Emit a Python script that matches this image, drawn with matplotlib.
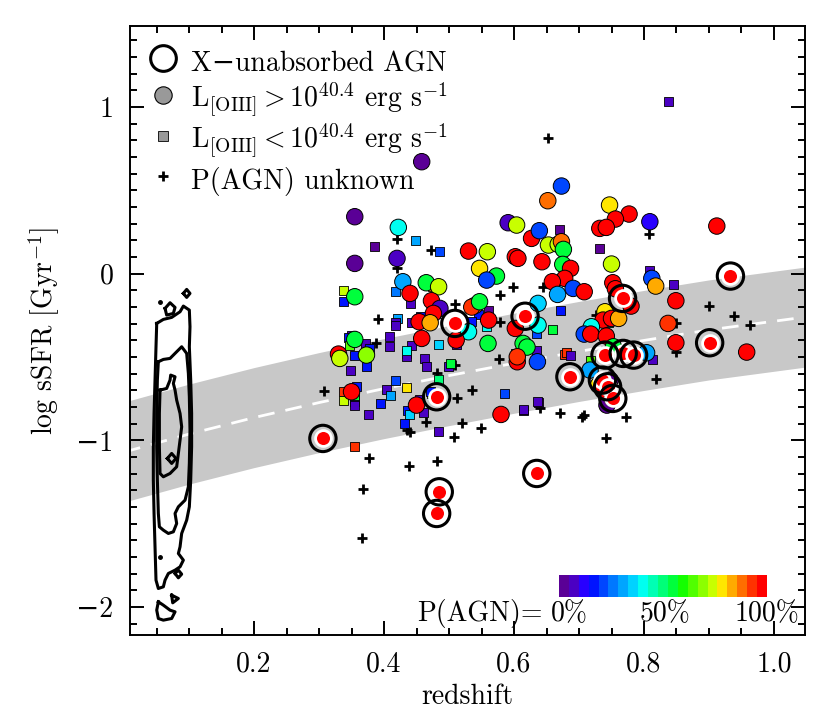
import numpy as np
import matplotlib
matplotlib.use("Agg")
import matplotlib.pyplot as plt
from matplotlib.colors import ListedColormap
from matplotlib.lines import Line2D
from matplotlib.ticker import MultipleLocator

plt.rcParams['font.family'] = ['cmr10', 'DejaVu Serif']
plt.rcParams['mathtext.fontset'] = 'cm'
plt.rcParams['axes.unicode_minus'] = False
plt.rcParams['axes.formatter.use_mathtext'] = True

# ---------------- data ----------------
# galaxies with L[OIII] > 10^40.4 (circles): redshift, log sSFR, P(AGN)
circ_z = [0.458, 0.355, 0.422, 0.530, 0.559, 0.591, 0.604, 0.627, 0.639, 0.652,
          0.420, 0.355, 0.547, 0.602, 0.606, 0.643, 0.573, 0.558, 0.429, 0.465,
          0.484, 0.355, 0.440, 0.473, 0.486, 0.476, 0.540, 0.535, 0.547, 0.561,
          0.637, 0.454, 0.471, 0.602, 0.530, 0.458, 0.355, 0.560, 0.614, 0.620,
          0.637, 0.511, 0.330, 0.332, 0.373, 0.605, 0.605, 0.636, 0.350, 0.450,
          0.580, 0.673, 0.747, 0.777, 0.756, 0.732, 0.742, 0.809, 0.912, 0.653,
          0.668, 0.673, 0.676, 0.675, 0.687, 0.750, 0.678, 0.659, 0.691, 0.708,
          0.667, 0.752, 0.756, 0.780, 0.812, 0.818, 0.849, 0.837, 0.849, 0.958,
          0.740, 0.737, 0.750, 0.761, 0.719, 0.708, 0.718, 0.742, 0.753, 0.804,
          0.717, 0.730, 0.743, 0.748, 0.739, 0.737, 0.745, 0.752]
circ_y = [0.672, 0.342, 0.278, 0.136, 0.132, 0.306, 0.292, 0.212, 0.258, 0.438,
          0.092, 0.062, 0.032, 0.102, 0.092, 0.072, -0.014, -0.038, -0.048, -0.054,
          -0.078, -0.138, -0.118, -0.162, -0.208, -0.238, -0.190, -0.200, -0.168, -0.278,
          -0.178, -0.288, -0.294, -0.328, -0.348, -0.388, -0.394, -0.418, -0.418, -0.440,
          -0.308, -0.398, -0.482, -0.508, -0.488, -0.528, -0.498, -0.528, -0.708, -0.788,
          -0.844, 0.526, 0.412, 0.358, 0.328, 0.272, 0.278, 0.312, 0.286, 0.172,
          0.176, 0.192, 0.146, 0.056, 0.032, 0.058, -0.028, -0.048, -0.088, -0.108,
          -0.124, -0.054, -0.090, -0.194, -0.028, -0.074, -0.162, -0.298, -0.414, -0.470,
          -0.228, -0.278, -0.268, -0.268, -0.318, -0.362, -0.362, -0.374, -0.438, -0.474,
          -0.578, -0.668, -0.788, -0.638, -0.660, -0.690, -0.720, -0.750]
circ_p = [0.02, 0.02, 0.42, 0.97, 0.72, 0.05, 0.72, 0.97, 0.20, 0.90,
          0.07, 0.02, 0.80, 0.97, 0.97, 0.97, 0.55, 0.20, 0.30, 0.55,
          0.72, 0.55, 0.97, 0.97, 0.07, 0.97, 0.88, 0.92, 0.55, 0.97,
          0.35, 0.97, 0.85, 0.97, 0.42, 0.97, 0.55, 0.55, 0.55, 0.55,
          0.42, 0.97, 0.97, 0.72, 0.68, 0.97, 0.92, 0.20, 0.97, 0.97,
          0.97, 0.20, 0.80, 0.97, 0.97, 0.97, 0.97, 0.10, 0.97, 0.72,
          0.72, 0.88, 0.55, 0.55, 0.97, 0.72, 0.97, 0.97, 0.20, 0.97,
          0.32, 0.97, 0.97, 0.97, 0.22, 0.85, 0.97, 0.92, 0.97, 0.97,
          0.80, 0.97, 0.97, 0.85, 0.42, 0.20, 0.97, 0.97, 0.55, 0.33,
          0.30, 0.80, 0.03, 0.03, 0.97, 0.97, 0.97, 0.97]

# galaxies with L[OIII] < 10^40.4 (squares)
sq_z = [0.449, 0.386, 0.486, 0.463, 0.474, 0.338, 0.338, 0.418, 0.440, 0.479,
        0.561, 0.546, 0.557, 0.420, 0.417, 0.417, 0.443, 0.456, 0.535, 0.619,
        0.635, 0.350, 0.345, 0.347, 0.371, 0.409, 0.408, 0.484, 0.512, 0.442,
        0.634, 0.355, 0.377, 0.349, 0.373, 0.434, 0.434, 0.435, 0.462, 0.466,
        0.499, 0.502, 0.603, 0.484, 0.338, 0.337, 0.355, 0.355, 0.355, 0.355,
        0.354, 0.357, 0.404, 0.410, 0.418, 0.435, 0.395, 0.376, 0.473, 0.471,
        0.454, 0.461, 0.436, 0.439, 0.432, 0.484, 0.585, 0.615, 0.637, 0.355,
        0.670, 0.732, 0.809, 0.846, 0.672, 0.753, 0.745, 0.659, 0.678, 0.681,
        0.687, 0.813, 0.717, 0.636, 0.615, 0.837]
sq_y = [0.202, 0.162, 0.132, -0.042, -0.078, -0.098, -0.168, -0.108, -0.178, -0.238,
        -0.218, -0.242, -0.318, -0.268, -0.290, -0.308, -0.294, -0.258, -0.288, -0.248,
        -0.358, -0.370, -0.382, -0.428, -0.418, -0.378, -0.438, -0.422, -0.422, -0.428,
        -0.462, -0.488, -0.448, -0.582, -0.554, -0.478, -0.498, -0.462, -0.508, -0.554,
        -0.554, -0.538, -0.478, -0.634, -0.704, -0.758, -0.718, -0.748, -0.768, -0.788,
        -0.728, -0.678, -0.694, -0.728, -0.642, -0.684, -0.778, -0.844, -0.718, -0.704,
        -0.754, -0.834, -0.818, -0.842, -0.898, -0.948, -0.718, -0.818, -0.774, -1.038,
        0.268, 0.152, 0.018, -0.064, -0.222, -0.274, -0.294, -0.334, -0.482, -0.470,
        -0.488, -0.514, -0.518, -0.768, -0.814, 1.036]
sq_p = [0.33, 0.02, 0.20, 0.03, 0.85, 0.72, 0.15, 0.25, 0.05, 0.95,
        0.03, 0.18, 0.42, 0.33, 0.05, 0.05, 0.05, 0.15, 0.18, 0.55,
        0.20, 0.05, 0.15, 0.65, 0.05, 0.05, 0.05, 0.35, 0.05, 0.05,
        0.05, 0.18, 0.18, 0.05, 0.15, 0.05, 0.05, 0.40, 0.05, 0.05,
        0.05, 0.55, 0.18, 0.48, 0.95, 0.75, 0.05, 0.05, 0.05, 0.05,
        0.55, 0.15, 0.05, 0.33, 0.22, 0.80, 0.15, 0.05, 0.65, 0.18,
        0.05, 0.05, 0.15, 0.35, 0.18, 0.05, 0.20, 0.05, 0.05, 0.95,
        0.03, 0.03, 0.05, 0.05, 0.18, 0.05, 0.45, 0.55, 0.95, 0.95,
        0.05, 0.05, 0.65, 0.05, 0.05, 0.05]

# P(AGN) unknown (plus signs)
unk_z = [0.420, 0.473, 0.420, 0.599, 0.578, 0.645, 0.509, 0.391, 0.578, 0.388,
         0.482, 0.509, 0.577, 0.307, 0.435, 0.440, 0.465, 0.512, 0.535, 0.520,
         0.508, 0.549, 0.640, 0.377, 0.439, 0.481, 0.368, 0.366, 0.807, 0.900,
         0.938, 0.963, 0.849, 0.726, 0.670, 0.704, 0.708, 0.742, 0.773, 0.819,
         0.849, 0.652]
unk_y = [0.206, 0.142, 0.032, -0.078, -0.128, -0.080, -0.182, -0.274, -0.288, -0.414,
         -0.598, -0.548, -0.514, -0.704, -0.938, -0.948, -0.888, -0.744, -0.698, -0.894,
         -0.982, -0.924, -0.808, -1.104, -1.152, -1.124, -1.292, -1.584, 0.238, -0.194,
         -0.254, -0.308, -0.298, -0.248, -0.834, -0.862, -0.848, -0.988, -0.862, -0.634,
         -0.468, 0.814]

# X-ray unabsorbed AGN (ringed, P(AGN)=100%)
xagn_z = [0.306, 0.509, 0.617, 0.481, 0.485, 0.481, 0.635, 0.933, 0.901, 0.767,
          0.686, 0.740, 0.768, 0.784, 0.736, 0.744, 0.752]
xagn_y = [-0.988, -0.298, -0.255, -0.738, -1.308, -1.438, -1.198, -0.014, -0.414, -0.148,
          -0.618, -0.488, -0.478, -0.488, -0.638, -0.678, -0.748]

# star-forming main sequence (centre) and its +/- scatter
ms_z = [0.0, 0.1, 0.2, 0.3, 0.4, 0.5, 0.6, 0.7, 0.8, 0.9, 1.05]
ms_center = [-1.07, -0.962, -0.863, -0.773, -0.689, -0.611, -0.537, -0.466, -0.400, -0.337, -0.259]
ms_halfwidth = 0.30

# low-z comparison sample density contours (z, log sSFR vertices)
cont_outer = [(0.0503, -0.298), (0.0605, -0.274), (0.0733, -0.262), (0.0862, -0.228),
              (0.0913, -0.194), (0.1005, -0.218), (0.1015, -0.318), (0.1005, -0.438),
              (0.1026, -0.638), (0.104, -0.838), (0.104, -1.038), (0.1026, -1.238),
              (0.1005, -1.398), (0.0964, -1.478), (0.0887, -1.558), (0.0862, -1.638),
              (0.0836, -1.678), (0.0913, -1.718), (0.0862, -1.758), (0.0785, -1.778),
              (0.0682, -1.798), (0.0631, -1.838), (0.0605, -1.878), (0.0528, -1.888),
              (0.0492, -1.838), (0.0477, -1.638), (0.0462, -1.438), (0.0451, -1.238),
              (0.0451, -1.038), (0.0462, -0.838), (0.0477, -0.638), (0.0492, -0.438)]
cont_middle = [(0.0528, -0.528), (0.0605, -0.514), (0.0708, -0.508), (0.081, -0.468),
               (0.0887, -0.438), (0.0964, -0.478), (0.099, -0.598), (0.1005, -0.738),
               (0.1015, -0.938), (0.1005, -1.138), (0.099, -1.278), (0.0939, -1.358),
               (0.0836, -1.398), (0.0785, -1.438), (0.081, -1.498), (0.0759, -1.548),
               (0.0682, -1.558), (0.0605, -1.538), (0.0544, -1.518), (0.0528, -1.438),
               (0.0513, -1.238), (0.0503, -1.038), (0.0503, -0.838), (0.0513, -0.638)]
cont_inner = [(0.0554, -0.698), (0.0656, -0.688), (0.0708, -0.638), (0.0718, -0.608),
              (0.0785, -0.618), (0.0759, -0.658), (0.0785, -0.698), (0.081, -0.758),
              (0.0862, -0.838), (0.0887, -0.918), (0.0862, -0.998), (0.0836, -1.078),
              (0.081, -1.158), (0.0708, -1.198), (0.0605, -1.218), (0.0554, -1.198),
              (0.0544, -1.038), (0.0544, -0.838)]
cont_islands = [
    [(0.0667, -1.108), (0.0733, -1.078), (0.080, -1.108), (0.0733, -1.138)],
    [(0.0913, -0.118), (0.0964, -0.094), (0.1015, -0.118), (0.0964, -0.142)],
    [(0.0631, -0.208), (0.0708, -0.174), (0.0785, -0.202), (0.0759, -0.238), (0.0656, -0.248)],
    [(0.0785, -1.798), (0.0836, -1.778), (0.0887, -1.802), (0.0836, -1.824)],
    [(0.0733, -1.928), (0.0836, -1.948), (0.0749, -1.974)],
    [(0.0528, -1.968), (0.0605, -1.988), (0.0708, -2.018), (0.0785, -2.028),
     (0.0733, -2.068), (0.0605, -2.078), (0.0528, -2.068), (0.0503, -2.018)],
]
cont_dots = [(0.0554, -0.168), (0.0554, -1.698)]

# colour table for P(AGN)
pagn_colors = ['#5a0096', '#4b00c3', '#2800ff', '#0014ff', '#0046ff', '#0078ff', '#00a5ff',
               '#00d2ff', '#00fff0', '#00ffb4', '#00ff78', '#00ff3c', '#14ff00', '#50ff00',
               '#8cff00', '#c8ff00', '#ffe600', '#ffaa00', '#ff6e00', '#ff3200', '#ff0000']
cbar_labels = ['0%', '50%', '100%']

# ---------------- plot ----------------
cmap = ListedColormap(pagn_colors)
FS = 20

fig = plt.figure(figsize=(8.30, 7.27), dpi=100)
ax = fig.add_axes([130 / 830, 92 / 727, 675 / 830, 609 / 727])
ax.set_xlim(0.0092, 1.0477)
ax.set_ylim(-2.167, 1.486)

msc = np.array(ms_center)
ax.fill_between(ms_z, msc - ms_halfwidth, msc + ms_halfwidth, color='#c8c8c8', lw=0, zorder=1)
ax.plot(ms_z, msc, color='white', lw=2.0, ls=(0, (6, 4)), zorder=2)

for poly in [cont_outer, cont_middle, cont_inner] + cont_islands:
    pz = [p[0] for p in poly] + [poly[0][0]]
    py = [p[1] for p in poly] + [poly[0][1]]
    ax.plot(pz, py, color='black', lw=2.2, zorder=3, solid_joinstyle='round')
ax.plot([d[0] for d in cont_dots], [d[1] for d in cont_dots], 'o', color='black', ms=2.5, zorder=3)

ax.scatter(unk_z, unk_y, marker='+', s=50, c='black', linewidths=2.0, zorder=4)
ax.scatter(sq_z, sq_y, marker='s', s=42, c=cmap(np.minimum(np.array(sq_p), 0.999)),
           edgecolors='black', linewidths=0.6, zorder=5)
ax.scatter(circ_z, circ_y, marker='o', s=140, c=cmap(np.minimum(np.array(circ_p), 0.999)),
           edgecolors='black', linewidths=0.7, zorder=6)
ax.scatter(xagn_z, xagn_y, marker='o', s=130, c='#ff0000', edgecolors='white',
           linewidths=2.0, zorder=7)
ax.scatter(xagn_z, xagn_y, marker='o', s=360, facecolors='none', edgecolors='black',
           linewidths=2.2, zorder=8)

# axes styling
ax.set_xticks([0.2, 0.4, 0.6, 0.8, 1.0])
ax.set_xticklabels(['0.2', '0.4', '0.6', '0.8', '1.0'])
ax.xaxis.set_minor_locator(MultipleLocator(0.05))
ax.set_yticks([-2, -1, 0, 1])
ax.set_yticklabels(['\u22122', '\u22121', '0', '1'])
ax.yaxis.set_minor_locator(MultipleLocator(0.1))
ax.tick_params(which='both', direction='in', top=True, right=True, width=1.4, labelsize=FS)
ax.tick_params(which='major', length=10, pad=12)
ax.tick_params(which='minor', length=5)
for s in ax.spines.values():
    s.set_linewidth(1.4)
ax.set_xlabel('redshift', fontsize=FS, labelpad=4)
ax.set_ylabel(r'log sSFR [Gyr$^{-1}$]', fontsize=FS, labelpad=10)

handles = [
    Line2D([], [], ls='none', marker='o', ms=18.5, mfc='none', mec='black', mew=2.2),
    Line2D([], [], ls='none', marker='o', ms=12.5, mfc='#999999', mec='black', mew=0.8),
    Line2D([], [], ls='none', marker='s', ms=6.5, mfc='#999999', mec='black', mew=0.6),
    Line2D([], [], ls='none', marker='+', ms=7, mec='black', mew=2.0),
]
labels = ['X\u2212unabsorbed AGN',
          r'L$_{\rm [OIII]}$$>$10$^{40.4}$ erg s$^{-1}$',
          r'L$_{\rm [OIII]}$$<$10$^{40.4}$ erg s$^{-1}$',
          'P(AGN) unknown']
ax.legend(handles, labels, loc='upper left', frameon=False, fontsize=FS,
          handlelength=1.0, handleheight=1.45, handletextpad=0.5, labelspacing=0.1,
          borderpad=0.0, borderaxespad=0.7)

# P(AGN) colour bar
cax = fig.add_axes([559 / 830, 130 / 727, 208 / 830, 22 / 727])
cax.imshow(np.arange(len(pagn_colors))[None, :], cmap=cmap, aspect='auto',
           interpolation='nearest')
cax.set_axis_off()
cax.text(-0.08, -0.75, 'P(AGN)=', transform=cax.transAxes, ha='right', va='center', fontsize=FS)
for xpos, lab in zip([0.05, 0.51, 1.0], cbar_labels):
    cax.text(xpos, -0.75, lab, transform=cax.transAxes, ha='center', va='center', fontsize=FS)

fig.savefig('out.png', dpi=100)
